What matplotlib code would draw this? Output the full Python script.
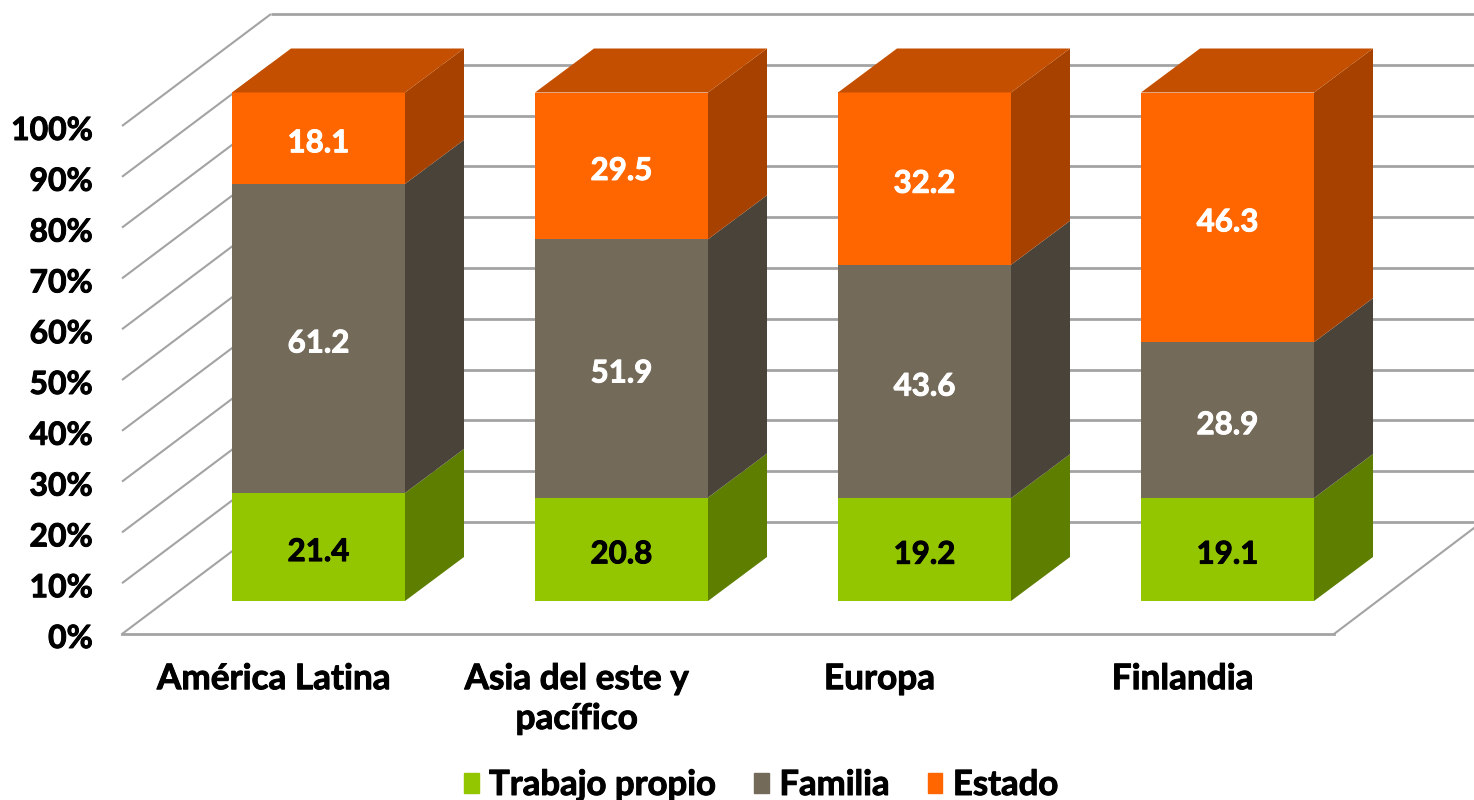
import numpy as np
import matplotlib
matplotlib.use("Agg")
import matplotlib.pyplot as plt
import matplotlib.patheffects as pe
from matplotlib.patches import Patch
from matplotlib.transforms import ScaledTranslation

categories = ["América Latina", "Asia del este y\npacífico", "Europa", "Finlandia"]
series_names = ["Trabajo propio", "Familia", "Estado"]
trabajo = [21.4, 20.8, 19.2, 19.1]
familia = [61.2, 51.9, 43.6, 28.9]
estado = [18.1, 29.5, 32.2, 46.3]
y_ticks = [0, 10, 20, 30, 40, 50, 60, 70, 80, 90, 100]

front = ["#94C600", "#736A5A", "#FF6600"]
side = ["#5E7E00", "#4A4339", "#A64100"]
top_col = "#C44F00"
text_col = ["black", "white", "white"]
grid_col = "#A3A3A3"

W, H = 1474, 800
L, R, T, B = 122, 1334, 126, 634
px_x = (R - L) / 4
px_y = (B - T) / 100

plt.rcParams["font.family"] = ["Lato", "DejaVu Sans"]
plt.rcParams["font.weight"] = "bold"
fig = plt.figure(figsize=(W / 100, H / 100), dpi=100, facecolor="white")
ax = fig.add_axes([L / W, 1 - B / H, (R - L) / W, (B - T) / H])
ax.set_xlim(-0.5, 3.5)
ax.set_ylim(0, 100)
for s in ax.spines.values():
    s.set_visible(False)


def embolden(txt, color):
    txt.set_path_effects([pe.withStroke(linewidth=0.7, foreground=color)])


# floor / wall grid of the pseudo-3D frame
wall_dx, wall_dy = 149 / px_x, 112 / px_y
edge_x = (W - L) / px_x - 0.5
for v in y_ticks:
    ax.plot([-0.5, -0.5 + wall_dx], [v, v + wall_dy], color=grid_col, lw=1.5,
            clip_on=False, zorder=1, solid_capstyle="butt")
    ax.plot([-0.5 + wall_dx, edge_x], [v + wall_dy, v + wall_dy], color=grid_col,
            lw=2.0, clip_on=False, zorder=1, solid_capstyle="butt")
ax.plot([-0.5, 3.5], [0, 0], color=grid_col, lw=2.0, clip_on=False, zorder=1)
ax.plot([3.5, edge_x], [0, 106 / px_y], color=grid_col, lw=1.5, clip_on=False, zorder=1)

# stacked bars, normalised to 100 %
vals = np.array([trabajo, familia, estado], dtype=float)
shares = vals / vals.sum(axis=0) * 100
x = np.arange(len(categories))
bar_w = 173 / px_x
off_x, off_y = 45 / px_x, 33 / px_y
dep_x, dep_y = 59 / px_x, 44 / px_y
scale = 508.5 / 508
bottom = np.zeros(len(categories))
for k in range(3):
    h = shares[k] * scale
    ax.bar(x + off_x, h, bar_w, bottom=bottom + off_y, color=front[k],
           clip_on=False, zorder=3, linewidth=0)
    for i in range(len(x)):
        xr = x[i] + off_x + bar_w / 2
        y0, y1 = bottom[i] + off_y, bottom[i] + h[i] + off_y
        ax.fill([xr, xr + dep_x, xr + dep_x, xr],
                [y0, y0 + dep_y, y1 + dep_y, y1],
                color=side[k], clip_on=False, zorder=2, linewidth=0)
        t = ax.text(x[i] + off_x, (y0 + y1) / 2 - 1.0, f"{vals[k][i]:.1f}",
                    color=text_col[k], ha="center", va="center", fontsize=22.5,
                    fontweight="bold", zorder=4, clip_on=False)
        embolden(t, text_col[k])
    bottom = bottom + h
for i in range(len(x)):
    xl = x[i] + off_x - bar_w / 2
    xr = xl + bar_w
    yt = bottom[i] + off_y
    ax.fill([xl, xr, xr + dep_x, xl + dep_x], [yt, yt, yt + dep_y, yt + dep_y],
            color=top_col, clip_on=False, zorder=3, linewidth=0)

ax.set_xticks(x, categories)
ax.set_yticks(y_ticks, [f"{v}%" for v in y_ticks])
ax.tick_params(axis="both", length=0)
ax.tick_params(axis="y", pad=21, labelsize=23)
ax.tick_params(axis="x", pad=21, labelsize=25.3)
shift = ScaledTranslation(0, -4.5 / 100, fig.dpi_scale_trans)
for lab in ax.get_xticklabels():
    lab.set_linespacing(1.3)
    embolden(lab, "black")
for lab in ax.get_yticklabels():
    lab.set_verticalalignment("center")
    lab.set_transform(lab.get_transform() + shift)
    embolden(lab, "black")

handles = [Patch(color=c, label=n) for c, n in zip(front, series_names)]
leg = fig.legend(handles=handles, loc="center", bbox_to_anchor=(761 / W, 1 - 785 / H),
                 ncol=3, frameon=False, fontsize=25, handlelength=0.43, handleheight=0.52,
                 handletextpad=0.3, columnspacing=1.1, borderpad=0, borderaxespad=0)
for t in leg.get_texts():
    embolden(t, "black")

fig.savefig("out.png", dpi=100, facecolor="white")
